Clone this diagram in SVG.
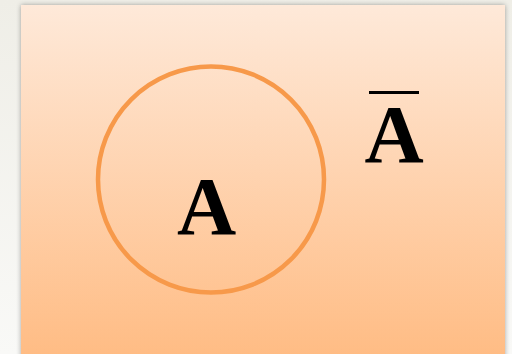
<svg xmlns="http://www.w3.org/2000/svg" width="512" height="354" viewBox="0 0 512 354">
<defs>
<linearGradient id="bgOuter" x1="0" y1="0" x2="0" y2="1">
<stop offset="0" stop-color="#efeee7"/>
<stop offset="1" stop-color="#f9f9f7"/>
</linearGradient>
<linearGradient id="panel" x1="0" y1="0" x2="0" y2="1">
<stop offset="0" stop-color="#fee9d9"/>
<stop offset="1" stop-color="#ffbb82"/>
</linearGradient>
<filter id="shadow" x="-5%" y="-5%" width="110%" height="110%">
<feGaussianBlur in="SourceAlpha" stdDeviation="2.5"/>
<feComponentTransfer><feFuncA type="linear" slope="0.35"/></feComponentTransfer>
<feMerge><feMergeNode/><feMergeNode in="SourceGraphic"/></feMerge>
</filter>
</defs>
<style>
.lbl{font-family:"Liberation Serif","Times New Roman",serif;font-weight:700;fill:#000;}
</style>
<rect x="0" y="0" width="512" height="354" fill="url(#bgOuter)"/>
<rect x="21" y="5" width="484" height="360" fill="url(#panel)" filter="url(#shadow)"/>
<g id="setA">
<circle cx="211" cy="179.5" r="113" fill="none" stroke="#f7994a" stroke-width="4.5"/>
<text class="lbl" x="206.5" y="234" font-size="82" text-anchor="middle" font-family="Liberation Serif, serif">A</text>
</g>
<g id="complement">
<text class="lbl" x="394" y="162" font-size="82" text-anchor="middle" font-family="Liberation Serif, serif">A</text>
<rect x="369" y="91" width="50" height="3" fill="#000"/>
</g>
</svg>
